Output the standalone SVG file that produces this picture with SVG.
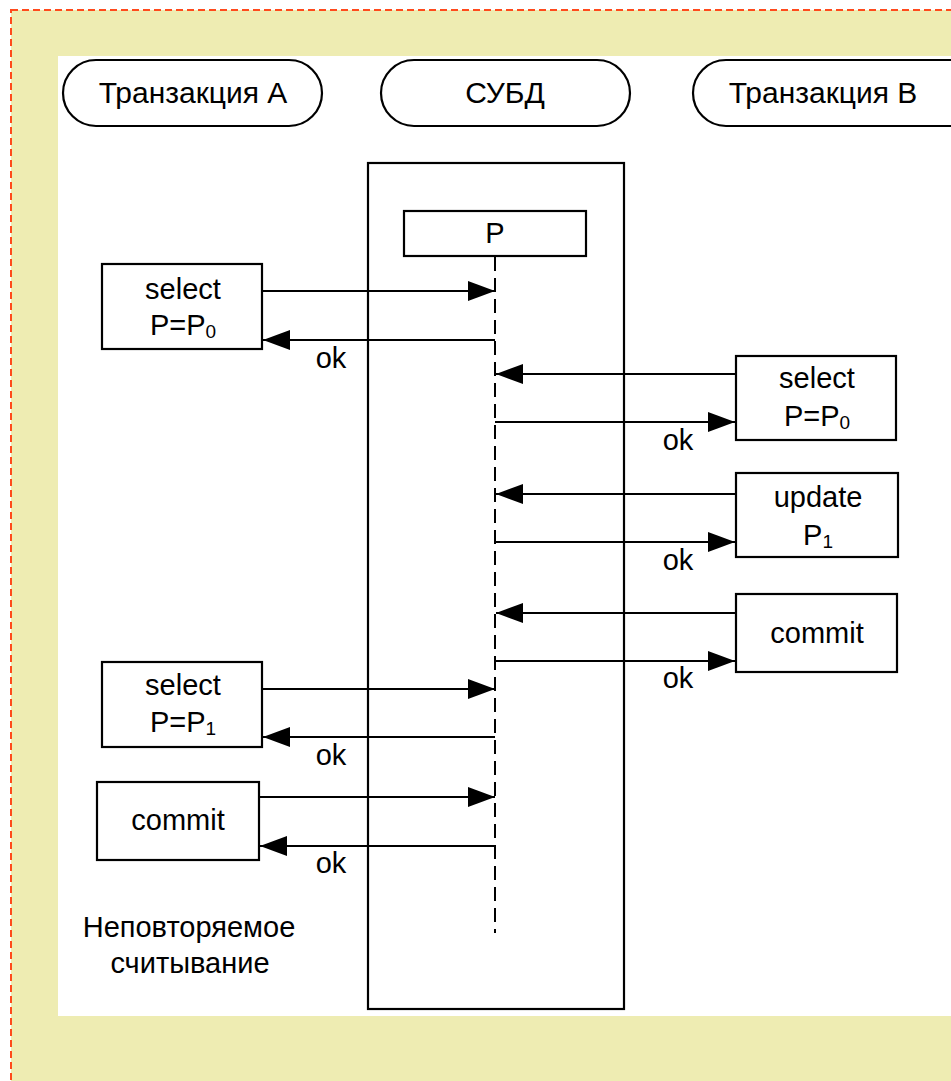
<svg xmlns="http://www.w3.org/2000/svg" width="951" height="1081" viewBox="0 0 951 1081">
<style>
text{font-family:"Liberation Sans",Arial,sans-serif;font-size:29px;fill:#000;text-anchor:middle}
.big{font-size:30px}
.sub{font-size:19px}
.box{fill:#fff;stroke:#000;stroke-width:2.2}
.msg{stroke:#000;stroke-width:2.2;fill:none;marker-end:url(#ah)}
</style>
<defs>
<marker id="ah" markerUnits="userSpaceOnUse" markerWidth="28" markerHeight="22" refX="27" refY="10" orient="auto">
<path d="M0,0 L27,10 L0,20 Z" fill="#000"/>
</marker>
</defs>
<rect x="11" y="10" width="950" height="1081" fill="#EEECB2" stroke="#FF4A1C" stroke-width="2" stroke-dasharray="7,4"/>
<rect x="58" y="56" width="900" height="960" fill="#fff"/>

<g id="pill-a"><rect class="box" x="63" y="60" width="259" height="66" rx="33"/><text class="big" x="193" y="103">Транзакция A</text></g>
<g id="pill-dbms"><rect class="box" x="381" y="60" width="249" height="66" rx="33"/><text class="big" x="505" y="103">СУБД</text></g>
<g id="pill-b"><rect class="box" x="693" y="60" width="290" height="66" rx="33"/><text class="big" x="823" y="103">Транзакция B</text></g>

<g id="dbms-frame"><rect class="box" x="368" y="163" width="256" height="846"/></g>
<g id="p-box"><rect class="box" x="404" y="211" width="182" height="45"/><text x="495" y="243">P</text></g>

<g id="a-select0"><rect class="box" x="102" y="264" width="160" height="85"/><text x="183" y="299">select</text><text x="183" y="335">P=P<tspan class="sub" dy="3">0</tspan></text></g>
<g id="b-select0"><rect class="box" x="736" y="356" width="160" height="84"/><text x="817" y="388">select</text><text x="817" y="426">P=P<tspan class="sub" dy="3">0</tspan></text></g>
<g id="b-update"><rect class="box" x="736" y="473" width="162" height="84"/><text x="818" y="507">update</text><text x="818" y="545">P<tspan class="sub" dy="3">1</tspan></text></g>
<g id="b-commit"><rect class="box" x="736" y="594" width="161" height="78"/><text x="817" y="643">commit</text></g>
<g id="a-select1"><rect class="box" x="102" y="662" width="160" height="85"/><text x="183" y="695">select</text><text x="183" y="732">P=P<tspan class="sub" dy="3">1</tspan></text></g>
<g id="a-commit"><rect class="box" x="97" y="782" width="162" height="78"/><text x="178" y="830">commit</text></g>

<g id="note"><text x="189" y="937">Неповторяемое</text><text x="190" y="973">считывание</text></g>

<g id="connectors">
<line x1="495" y1="257" x2="495" y2="933" stroke="#000" stroke-width="2" stroke-dasharray="14,7"/>
<line class="msg" x1="262" y1="291" x2="495" y2="291"/>
<line class="msg" x1="495" y1="340" x2="263" y2="340"/>
<line class="msg" x1="736" y1="374" x2="496" y2="374"/>
<line class="msg" x1="495" y1="422" x2="735" y2="422"/>
<line class="msg" x1="736" y1="494" x2="496" y2="494"/>
<line class="msg" x1="495" y1="542" x2="735" y2="542"/>
<line class="msg" x1="736" y1="613" x2="496" y2="613"/>
<line class="msg" x1="495" y1="661" x2="735" y2="661"/>
<line class="msg" x1="262" y1="689" x2="495" y2="689"/>
<line class="msg" x1="495" y1="737" x2="263" y2="737"/>
<line class="msg" x1="260" y1="797" x2="495" y2="797"/>
<line class="msg" x1="495" y1="846" x2="260" y2="846"/>
<text x="331" y="368">ok</text>
<text x="678" y="450">ok</text>
<text x="678" y="570">ok</text>
<text x="678" y="688">ok</text>
<text x="331" y="765">ok</text>
<text x="331" y="873">ok</text>
</g>
</svg>
